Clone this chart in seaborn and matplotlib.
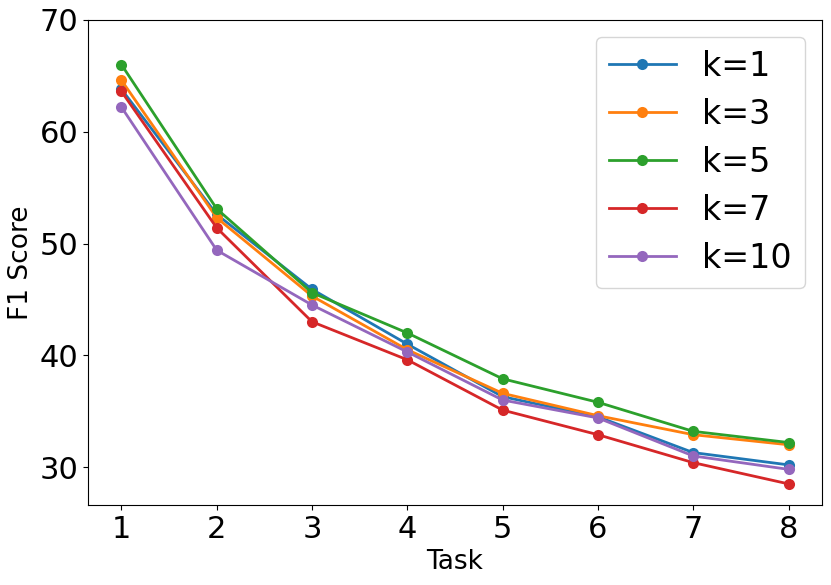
import matplotlib
matplotlib.use("Agg")
import matplotlib.pyplot as plt
import seaborn as sns
import pandas as pd

tasks = [1, 2, 3, 4, 5, 6, 7, 8]
k1 = [63.8, 52.6, 45.9, 41.0, 36.3, 34.5, 31.3, 30.2]
k3 = [64.6, 52.3, 45.3, 40.5, 36.6, 34.6, 32.9, 32.0]
k5 = [66.0, 53.1, 45.6, 42.0, 37.9, 35.8, 33.2, 32.2]
k7 = [63.6, 51.4, 43.0, 39.6, 35.1, 32.9, 30.4, 28.5]
k10 = [62.2, 49.4, 44.5, 40.3, 36.0, 34.4, 31.0, 29.8]
series_names = ["k=1", "k=3", "k=5", "k=7", "k=10"]
series_values = [k1, k3, k5, k7, k10]

rows = []
for name, vals in zip(series_names, series_values):
    for t, v in zip(tasks, vals):
        rows.append({"Task": t, "F1 Score": v, "k": name})
df = pd.DataFrame(rows)

plt.rcParams['font.family'] = ['DejaVu Sans']

fig, ax = plt.subplots(figsize=(8.31, 5.85), dpi=100)
fig.subplots_adjust(left=0.106, right=0.989, top=0.966, bottom=0.137)

palette = sns.color_palette("tab10", 5)
sns.lineplot(data=df, x="Task", y="F1 Score", hue="k", hue_order=series_names,
             palette=palette, marker="o", markersize=8, markeredgewidth=0,
             linewidth=2, ax=ax)

ax.set_ylim(top=70)
ax.set_xticks(tasks)
ax.set_yticks([30, 40, 50, 60, 70])
ax.tick_params(axis="both", labelsize=22, colors="black")
ax.set_xlabel("Task", fontsize=19, color="black")
ax.set_ylabel("F1 Score", fontsize=19, color="black")

ax.legend(loc="upper right", fontsize=24, handlelength=2.0, labelspacing=0.45,
          borderpad=0.4, handletextpad=0.8, framealpha=0.8)

fig.savefig("out.png", dpi=100)
